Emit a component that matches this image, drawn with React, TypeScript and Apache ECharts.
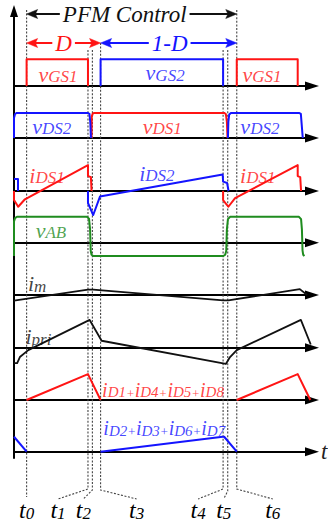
import React, { useEffect, useRef } from 'react';
import * as echarts from 'echarts';

const W = 328;
const H = 523;

// Switching instants t0..t6, in units of one switching period (t0 = 0, t6 = 1)
const instants = [0, 0.292, 0.313, 0.352, 0.935, 0.957, 1];
const instantSubs = ['0', '1', '2', '3', '4', '5', '6'];

// Waveforms: lists of segments of [time, value]; values are normalised to the gate-drive amplitude
const vGS1 = [
  [[0, 0], [0, 1], [0.292, 1], [0.292, 0]],
  [[1, 0], [1, 1], [1.29, 1], [1.29, 0]],
];
const vGS2 = [[[0.352, 0], [0.352, 1], [0.935, 1], [0.935, 0]]];

const vDS1 = [
  [[0.309, 0], [0.31, 0.8], [0.315, 0.92], [0.322, 0.94], [0.94, 0.94], [0.948, 0.9], [0.953, 0.6], [0.956, 0]],
];
const vDS2 = [
  [[-0.06, 0], [-0.06, 0.75], [-0.055, 0.9], [-0.047, 0.94], [0.29, 0.94], [0.299, 0.9], [0.303, 0.6], [0.306, 0]],
  [[0.958, 0], [0.96, 0.6], [0.964, 0.88], [0.972, 0.94], [1.296, 0.94], [1.305, 0.9], [1.309, 0.5], [1.314, 0]],
];

const iDS1 = [
  [[-0.06, 0], [-0.06, -0.34], [-0.04, -0.59], [-0.008, -0.31], [0.292, 0.97], [0.292, 0.56], [0.306, 0.52], [0.309, 0]],
  [[0.935, 0], [0.935, -0.34], [0.96, -0.59], [0.992, -0.27], [1.29, 0.97], [1.29, 0.56], [1.302, 0.52], [1.306, 0]],
];
const iDS2 = [
  [[-0.06, 0.45], [-0.041, 0.45], [-0.041, 0]],
  [[0.292, 0], [0.292, -0.45], [0.317, -0.9], [0.349, -0.21], [0.933, 0.62], [0.935, 0.35], [0.954, 0.3], [0.961, 0]],
];

const vAB = [
  [[-0.06, -0.5], [-0.06, 0.8], [-0.055, 0.92], [-0.046, 0.97], [0.287, 0.97], [0.297, 0.9], [0.302, 0.5],
   [0.305, -0.3], [0.309, -0.45], [0.317, -0.5], [0.936, -0.5], [0.945, -0.45], [0.95, -0.3], [0.953, 0.5],
   [0.958, 0.88], [0.968, 0.97], [1.296, 0.97], [1.306, 0.88], [1.31, 0.5], [1.313, -0.3], [1.316, -0.45], [1.322, -0.5]],
];

const iM = [
  [[-0.06, -0.21], [0.292, 0.2], [0.317, 0.2], [0.935, -0.2], [0.96, -0.2], [1.3, 0.22], [1.335, 0]],
];

const iPri = [
  [[-0.06, -0.58], [-0.045, -0.58], [-0.032, -0.35], [0.008, -0.09], [0.3, 1.04], [0.357, 0.26],
   [0.948, -0.61], [0.968, -0.35], [1.0, -0.09], [1.305, 1.04], [1.352, 0.12]],
];

const iD1458 = [
  [[0, 0], [0.292, 0.97], [0.352, 0]],
  [[1, 0], [1.29, 0.97], [1.35, 0]],
];
const iD2367 = [
  [[-0.06, 0.56], [0, 0]],
  [[0.352, 0], [0.933, 0.56], [0.94, 0.56], [1, 0]],
];

// ---- styling and layout ----
const RED = '#ff1414';
const BLUE = '#1414ff';
const GREEN = '#1f8c1f';
const INK = '#111111';
const GUIDE = '#444444';
const SERIF = "'Liberation Serif', 'Times New Roman', serif";

const T_MIN = -0.06;
const T_MAX = 1.358;
const PLOT_LEFT = 14;
const PLOT_WIDTH = 298;
const UNIT = 26.7; // px per normalised unit
const Y_LO = -1;
const Y_HI = 1.6;
const BASELINES = [86, 138, 191, 242.7, 295, 347.7, 400, 451.7];

type Trace = { segs: number[][][]; color: string; width?: number };
type Label = { t: number; v: number; text: string; color: string; big?: number; small?: number };
type Panel = { traces: Trace[]; labels: Label[] };

const panels: Panel[] = [
  {
    traces: [{ segs: vGS1, color: RED }, { segs: vGS2, color: BLUE }],
    labels: [
      { t: 0.149, v: 0.5, text: '{m|v}{s|GS1}', color: RED },
      { t: 0.659, v: 0.55, text: '{m|v}{s|GS2}', color: BLUE },
      { t: 1.12, v: 0.5, text: '{m|v}{s|GS1}', color: RED },
    ],
  },
  {
    traces: [{ segs: vDS1, color: RED }, { segs: vDS2, color: BLUE }],
    labels: [
      { t: 0.12, v: 0.5, text: '{m|v}{s|DS2}', color: BLUE },
      { t: 0.645, v: 0.5, text: '{m|v}{s|DS1}', color: RED },
      { t: 1.11, v: 0.5, text: '{m|v}{s|DS2}', color: BLUE },
    ],
  },
  {
    traces: [{ segs: iDS1, color: RED }, { segs: iDS2, color: BLUE }],
    labels: [
      { t: 0.097, v: 0.64, text: '{m|i}{s|DS1}', color: RED },
      { t: 0.62, v: 0.72, text: '{m|i}{s|DS2}', color: BLUE },
      { t: 1.1, v: 0.64, text: '{m|i}{s|DS1}', color: RED },
    ],
  },
  {
    traces: [{ segs: vAB, color: GREEN }],
    labels: [{ t: 0.116, v: 0.52, text: '{m|v}{s|AB}', color: GREEN }],
  },
  {
    traces: [{ segs: iM, color: INK, width: 1.8 }],
    labels: [{ t: 0.05, v: 0.47, text: '{m|i}{s|m}', color: INK }],
  },
  {
    traces: [{ segs: iPri, color: INK, width: 1.8 }],
    labels: [{ t: 0.056, v: 0.47, text: '{m|i}{s|pri}', color: INK }],
  },
  {
    traces: [{ segs: iD1458, color: RED }],
    labels: [{ t: 0.649, v: 0.47, text: '{m|i}{s|D1}{p|+}{m|i}{s|D4}{p|+}{m|i}{s|D5}{p|+}{m|i}{s|D8}', color: RED, big: 20, small: 15 }],
  },
  {
    traces: [{ segs: iD2367, color: BLUE }],
    labels: [{ t: 0.655, v: 0.97, text: '{m|i}{s|D2}{p|+}{m|i}{s|D3}{p|+}{m|i}{s|D6}{p|+}{m|i}{s|D7}', color: BLUE, big: 20, small: 15 }],
  },
];

function rich(color: string, big = 22, small = 17) {
  return {
    m: { fontFamily: SERIF, fontStyle: 'italic', fontSize: big, color, lineHeight: 25, verticalAlign: 'bottom' },
    s: { fontFamily: SERIF, fontStyle: 'italic', fontSize: small, color, lineHeight: 9, verticalAlign: 'bottom' },
    p: { fontFamily: SERIF, fontStyle: 'italic', fontSize: 13, color, lineHeight: 9, verticalAlign: 'bottom' },
  };
}

function buildOption() {
  const grid: any[] = [];
  const xAxis: any[] = [];
  const yAxis: any[] = [];
  const series: any[] = [];

  // frame grid: carries the vertical axis with its arrow
  grid.push({ left: PLOT_LEFT, width: PLOT_WIDTH, top: 11, height: 447 });
  xAxis.push({ gridIndex: 0, type: 'value', min: T_MIN, max: T_MAX, show: false });
  yAxis.push({
    gridIndex: 0, type: 'value', min: 0, max: 1,
    axisLine: { show: true, onZero: false, symbol: ['none', 'triangle'], symbolSize: [8, 12], lineStyle: { color: '#000', width: 2 } },
    axisTick: { show: false }, axisLabel: { show: false }, splitLine: { show: false },
  });

  panels.forEach((p, i) => {
    const gi = i + 1;
    grid.push({ left: PLOT_LEFT, width: PLOT_WIDTH, top: BASELINES[i] - Y_HI * UNIT, height: (Y_HI - Y_LO) * UNIT });
    xAxis.push({
      gridIndex: gi, type: 'value', min: T_MIN, max: T_MAX,
      axisLine: { show: true, onZero: true, symbol: ['none', 'triangle'], symbolSize: [9, 14], lineStyle: { color: '#000', width: 2 } },
      axisTick: { show: false }, axisLabel: { show: false }, splitLine: { show: false },
    });
    yAxis.push({ gridIndex: gi, type: 'value', min: Y_LO, max: Y_HI, show: false, splitLine: { show: false } });

    p.traces.forEach((tr) => {
      tr.segs.forEach((seg) => {
        series.push({
          type: 'line', xAxisIndex: gi, yAxisIndex: gi, data: seg, showSymbol: false, symbol: 'none',
          clip: false, silent: true, z: 3,
          lineStyle: { color: tr.color, width: tr.width ?? 2, join: 'round' },
        });
      });
    });

    series.push({
      type: 'scatter', xAxisIndex: gi, yAxisIndex: gi, symbolSize: 0, silent: true, clip: false, z: 4,
      data: p.labels.map((l) => ({
        value: [l.t, l.v],
        label: {
          show: true, position: 'inside', formatter: l.text,
          rich: rich(l.color, l.big, l.small),
        },
      })),
    });
  });

  return { animation: false, backgroundColor: '#ffffff', grid, xAxis, yAxis, series };
}

function arrowHead(x: number, y: number, dir: 1 | -1, color: string) {
  const L = 11;
  const h = 4.5;
  return {
    type: 'polygon', z: 5, silent: true,
    shape: { points: [[x, y], [x - dir * L, y - h], [x - dir * L * 0.8, y], [x - dir * L, y + h]] },
    style: { fill: color, stroke: color, lineWidth: 0.5 },
  };
}

function spanArrow(x1: number, x2: number, y: number, color: string, text: string, textX: number, size: number) {
  return [
    { type: 'line', z: 4, silent: true, shape: { x1: x1 + 6, y1: y, x2: x2 - 6, y2: y }, style: { stroke: color, lineWidth: 2 } },
    arrowHead(x1, y, -1, color),
    arrowHead(x2, y, 1, color),
    {
      type: 'text', z: 6, silent: true, x: textX, y,
      style: {
        text, fill: color, fontFamily: SERIF, fontStyle: 'italic', fontSize: size,
        align: 'center', verticalAlign: 'middle', textAlign: 'center', textVerticalAlign: 'middle',
        backgroundColor: '#ffffff', padding: [0, 3],
      },
    },
  ];
}

const GUIDE_TOP = [10, 50, 50, 43, 50, 50, 10];
const GUIDE_BEND = [497, 489, 490, 490, 489, 491, 489];
const LABEL_SHIFT = [0, -30, -9, 36, -25, -4, 36];

function buildGraphics(chart: echarts.ECharts) {
  const px = (t: number) => chart.convertToPixel({ xAxisIndex: 1 }, t) as number;
  const g: any[] = [];

  instants.forEach((t, i) => {
    const x = px(t);
    const pts = i === 0
      ? [[x, GUIDE_TOP[i]], [x, GUIDE_BEND[i]]]
      : [[x, GUIDE_TOP[i]], [x, GUIDE_BEND[i]], [x + LABEL_SHIFT[i], 499]];
    g.push({
      type: 'polyline', z: 1, silent: true, shape: { points: pts },
      style: { stroke: GUIDE, lineWidth: 1.1, lineDash: [2, 1.6], fill: null },
    });
    g.push({
      type: 'text', z: 6, silent: true, x: x + LABEL_SHIFT[i], y: 509,
      style: {
        text: `{m|t}{s|${instantSubs[i]}}`, rich: rich('#222222', 24, 17),
        align: 'center', verticalAlign: 'middle', textAlign: 'center', textVerticalAlign: 'middle',
      },
    });
  });

  const x0 = px(instants[0]);
  const x3 = px(instants[3]);
  const x6 = px(instants[6]);
  g.push(...spanArrow(x0, x6, 14, INK, 'PFM Control', (x0 + x6) / 2 - 7, 23));
  g.push(...spanArrow(x0, x3, 43, RED, 'D', (x0 + x3) / 2, 23));
  g.push(...spanArrow(x3, x6, 43, BLUE, '1-D', (x3 + x6) / 2 + 1, 23));

  // time-axis name at the end of the lowest trace
  g.push({
    type: 'text', z: 6, silent: true, x: 321, y: BASELINES[7],
    style: {
      text: 't', fill: '#222222', fontFamily: SERIF, fontStyle: 'italic', fontSize: 23,
      align: 'left', verticalAlign: 'middle', textAlign: 'left', textVerticalAlign: 'middle',
    },
  });
  return g;
}

export default function App() {
  const ref = useRef<HTMLDivElement>(null);
  useEffect(() => {
    const el = ref.current;
    if (!el) return;
    const chart = echarts.init(el, undefined, { renderer: 'svg' });
    chart.setOption(buildOption());
    chart.setOption({ graphic: buildGraphics(chart) });
    return () => chart.dispose();
  }, []);
  return (
    <div
      ref={ref}
      style={{ position: 'fixed', left: 0, top: 0, width: W, height: H, background: '#ffffff' }}
    />
  );
}
